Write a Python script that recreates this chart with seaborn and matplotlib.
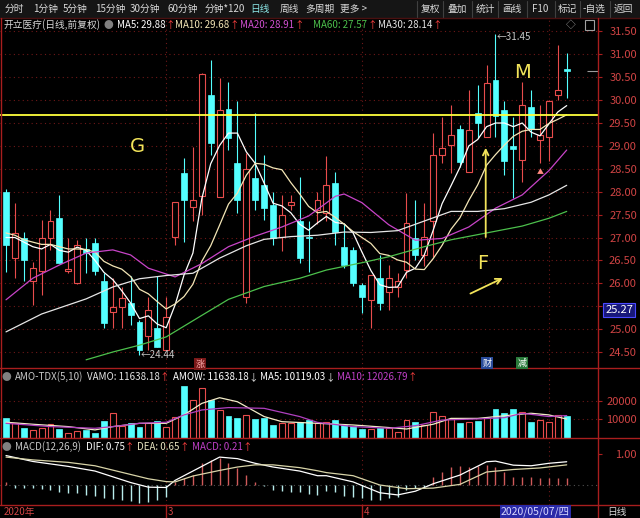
import numpy as np
import seaborn as sns
import matplotlib.pyplot as plt
from matplotlib.lines import Line2D
from matplotlib.patches import Rectangle

W, H = 640, 518

# daily candles (index 0 = first bar on screen, Feb 2020 .. May 2020)
opens = [28.00, 26.55, 27.00, 26.04, 26.26, 26.98, 27.42, 26.27, 26.00, 26.76,
         26.87, 26.04, 25.38, 25.49, 25.56, 25.16, 24.84, 25.02, 24.55, 27.02,
         28.40, 27.67, 27.90, 30.11, 27.89, 29.80, 28.62, 25.71, 28.29, 28.15,
         27.71, 27.02, 27.70, 27.35, 27.02, 27.60, 27.53, 28.18, 26.80, 26.73,
         25.96, 25.64, 26.11, 25.82, 25.93, 26.29, 26.98, 26.62, 27.35, 28.80,
         29.02, 29.38, 28.44, 29.71, 29.20, 30.44, 29.78, 29.00, 28.69, 29.86,
         29.13, 29.20, 30.11, 30.69]
highs = [28.05, 27.75, 27.13, 26.47, 27.38, 27.60, 27.93, 26.98, 26.95, 26.98,
         26.98, 26.22, 26.11, 25.93, 26.15, 25.20, 25.71, 26.15, 25.71, 27.78,
         28.73, 28.98, 30.60, 30.88, 30.48, 30.40, 29.97, 28.84, 29.71, 28.80,
         28.00, 27.93, 27.93, 28.33, 27.35, 28.00, 28.77, 28.44, 27.30, 26.80,
         26.00, 26.18, 26.62, 26.40, 26.22, 27.97, 27.82, 27.75, 29.28, 29.64,
         29.89, 29.45, 30.22, 30.33, 30.77, 31.45, 29.97, 29.64, 30.40, 30.22,
         29.89, 30.00, 31.20, 31.02]
lows = [26.25, 26.11, 26.04, 25.53, 25.75, 26.73, 26.44, 26.22, 25.98, 26.22,
        26.18, 25.02, 25.02, 25.02, 25.09, 24.44, 24.55, 24.60, 24.55, 26.84,
        26.90, 27.35, 27.50, 28.81, 27.89, 28.91, 27.53, 25.56, 27.60, 27.38,
        26.84, 26.70, 27.60, 26.44, 26.25, 27.30, 27.35, 26.84, 26.33, 25.95,
        25.35, 25.02, 25.42, 25.42, 25.71, 26.11, 26.51, 26.37, 26.58, 28.62,
        28.40, 28.55, 28.44, 29.17, 29.20, 29.20, 28.37, 27.86, 28.22, 29.20,
        28.62, 28.66, 30.00, 30.04]
closes = [26.84, 27.09, 26.51, 26.33, 26.98, 27.35, 26.44, 26.32, 26.84, 26.66,
          26.26, 25.13, 25.49, 25.67, 25.31, 24.55, 25.42, 24.62, 25.27, 27.78,
          27.82, 27.82, 30.58, 29.06, 29.78, 29.17, 27.82, 28.50, 27.82, 27.64,
          26.98, 27.49, 27.78, 26.55, 26.98, 27.82, 28.15, 27.13, 26.40, 26.00,
          25.71, 26.18, 25.56, 26.11, 26.04, 27.31, 26.62, 27.02, 28.80, 28.95,
          29.24, 28.65, 29.35, 29.49, 30.37, 29.65, 28.66, 28.93, 29.89, 29.38,
          29.24, 29.97, 30.22, 30.64]

ma5 = [27.00, 27.00, 26.90, 26.80, 26.75, 26.85, 26.72, 26.68, 26.79, 26.72,
       26.50, 26.24, 26.08, 25.84, 25.57, 25.23, 25.29, 25.11, 25.03, 25.53,
       26.18, 26.66, 27.85, 28.61, 29.01, 29.28, 29.28, 28.87, 28.62, 28.19,
       27.75, 27.69, 27.54, 27.29, 27.16, 27.32, 27.46, 27.33, 27.30, 27.10,
       26.68, 26.28, 25.97, 25.91, 25.92, 26.24, 26.33, 26.62, 27.16, 27.74,
       28.13, 28.53, 29.00, 29.14, 29.42, 29.50, 29.50, 29.42, 29.50, 29.30,
       29.22, 29.48, 29.74, 29.88]
ma10 = [27.10, 27.05, 26.95, 26.90, 26.85, 26.85, 26.80, 26.75, 26.75, 26.74,
        26.68, 26.48, 26.38, 26.31, 26.15, 25.87, 25.77, 25.60, 25.44, 25.55,
        25.71, 25.98, 26.48, 26.82, 27.27, 27.73, 27.97, 28.36, 28.62, 28.60,
        28.52, 28.48, 28.20, 27.95, 27.68, 27.54, 27.57, 27.44, 27.29, 27.13,
        27.00, 26.87, 26.65, 26.61, 26.51, 26.46, 26.31, 26.30, 26.54, 26.83,
        27.18, 27.43, 27.81, 28.15, 28.58, 28.81, 29.02, 29.21, 29.32, 29.36,
        29.36, 29.49, 29.58, 29.68]

# slower averages at sample bars
ma20_idx = [0, 3, 6, 9, 12, 14, 16, 19, 22, 25, 28, 31, 34, 37, 38, 40, 43, 46, 49, 52, 55, 58, 61, 63]
ma20 = [25.64, 26.11, 26.40, 26.66, 26.73, 26.62, 26.33, 26.14, 26.43, 26.80, 27.03, 27.23,
        27.47, 27.90, 27.95, 27.76, 27.28, 26.94, 26.98, 27.23, 27.64, 27.93, 28.46, 28.91]
ma30_idx = [0, 4, 9, 12, 15, 18, 21, 24, 27, 29, 32, 35, 38, 41, 44, 47, 50, 53, 56, 59, 61, 63]
ma30 = [24.94, 25.33, 25.66, 25.92, 26.10, 26.17, 26.22, 26.55, 26.82, 26.96, 27.02,
        27.05, 27.12, 27.11, 27.15, 27.36, 27.57, 27.57, 27.63, 27.77, 27.93, 28.14]
ma60_idx = [9, 12, 15, 18, 22, 25, 29, 33, 36, 40, 43, 47, 50, 54, 58, 61, 63]
ma60 = [24.33, 24.50, 24.65, 24.83, 25.30, 25.65, 25.93, 26.11, 26.29, 26.45,
        26.58, 26.80, 26.95, 27.10, 27.25, 27.42, 27.57]

# turnover (AMO)
amount = [10500, 7800, 5100, 4200, 5100, 7300, 4700, 2400, 3600, 4200,
          2700, 9100, 13600, 6500, 7800, 6000, 7800, 9100, 6000, 11500,
          28200, 20500, 27300, 20500, 15100, 11800, 10500, 12400, 10000, 10900,
          6900, 7800, 7800, 8400, 9600, 7800, 8700, 9600, 6900, 6500,
          4700, 4700, 5500, 5100, 2900, 9600, 8400, 6900, 13800, 12000,
          10200, 7800, 8400, 9100, 10900, 15500, 13600, 15500, 14200, 8400,
          9600, 8400, 12400, 11638]
vma5_idx = [0, 3, 7, 10, 12, 15, 18, 20, 22, 24, 26, 28, 29, 31, 35, 39, 43, 45, 48, 50, 53, 57, 59, 61, 63]
vma5 = [8400, 7300, 6000, 4200, 6000, 7800, 7800, 12400, 18700, 21800, 19600, 14200, 11500,
        8700, 7800, 6900, 5500, 4700, 7300, 10500, 10500, 12400, 13300, 12400, 10119]
vma10_idx = [0, 5, 10, 12, 15, 18, 20, 22, 25, 29, 33, 35, 39, 43, 46, 49, 53, 56, 58, 61, 63]
vma10 = [7800, 6000, 5100, 6000, 7800, 8400, 12400, 15100, 16400, 16000, 11500,
         8300, 6000, 5100, 6500, 9600, 10200, 10900, 13300, 11500, 12027]

# MACD(12,26,9)
macd_bar = [0.10, -0.09, -0.11, -0.11, -0.13, -0.16, -0.22, -0.27, -0.27, -0.32,
            -0.34, -0.43, -0.45, -0.48, -0.52, -0.59, -0.54, -0.48, -0.38, 0.11,
            0.22, 0.32, 0.70, 0.81, 0.86, 0.70, 0.54, 0.32, 0.11, -0.03,
            -0.15, -0.19, -0.22, -0.22, -0.30, -0.32, -0.20, -0.22, -0.35, -0.40,
            -0.43, -0.48, -0.48, -0.43, -0.38, -0.16, -0.11, -0.09, 0.27, 0.43,
            0.59, 0.62, 0.59, 0.62, 0.65, 0.59, 0.43, 0.27, 0.27, 0.27,
            0.22, 0.22, 0.22, 0.21]
dif_idx = [0, 3, 7, 10, 14, 16, 18, 19, 21, 24, 26, 28, 30, 33, 35, 36, 39, 42, 44, 46, 48, 51, 54, 55, 57, 59, 61, 63]
dif = [0.95, 0.76, 0.60, 0.45, 0.08, -0.07, -0.08, 0.15, 0.45, 0.90, 0.85, 0.70, 0.58, 0.45,
       0.30, 0.30, 0.10, -0.25, -0.32, -0.20, 0.04, 0.32, 0.75, 0.77, 0.64, 0.62, 0.70, 0.75]
dea_idx = [0, 3, 7, 10, 14, 16, 18, 19, 21, 24, 26, 28, 30, 33, 35, 36, 39, 42, 45, 48, 51, 54, 57, 60, 63]
dea = [0.90, 0.81, 0.73, 0.62, 0.34, 0.20, 0.11, 0.10, 0.29, 0.47, 0.58, 0.65, 0.65, 0.56,
       0.46, 0.40, 0.30, 0.00, -0.12, -0.10, 0.02, 0.42, 0.50, 0.55, 0.65]

price_ticks = [24.5, 25.0, 25.5, 26.0, 26.5, 27.0, 27.5, 28.0, 28.5, 29.0, 29.5, 30.0, 30.5, 31.0, 31.5]
amount_ticks = [10000, 20000]
macd_ticks = [1.0]
month_bars = [18, 40, 61]
key_level = 29.68
cursor_price = "25.27"

UP = "#e84c4c"
DN = "#54ffff"
FRAME = "#a81e1e"
GRID = "#6e1818"
AXTXT = "#d04444"
YEL = "#f2e35a"

sns.set_style("dark", {"axes.facecolor": "black", "figure.facecolor": "black"})
plt.rcParams["font.family"] = ["Noto Sans CJK SC", "DejaVu Sans"]
plt.rcParams["axes.unicode_minus"] = False

fig = plt.figure(figsize=(6.4, 5.18), dpi=100)
fig.patch.set_facecolor("black")


def panel(top, bottom):
    ax = fig.add_axes([0, 1 - bottom / H, 598 / W, (bottom - top) / H])
    ax.set_facecolor("black")
    ax.set_xlim(-6 / 8.9, 592 / 8.9)
    for s in ax.spines.values():
        s.set_visible(False)
    ax.set_xticks([])
    ax.tick_params(axis="y", left=False, labelleft=False, right=True, labelright=True,
                   length=3, width=0.8, color=FRAME, labelcolor=AXTXT, labelsize=8, pad=25)
    for b in month_bars:
        ax.axvline(b, color=GRID, lw=0.8, ls=(0, (1, 3)), zorder=0)
    return ax


def right_labels(ax, ticks, fmt, hide=()):
    ax.set_yticks(ticks)
    ax.set_yticklabels(["" if t in hide else fmt.format(t) for t in ticks])
    for lbl in ax.get_yticklabels():
        lbl.set_horizontalalignment("right")
    ax.set_xlabel("")
    ax.set_ylabel("")


idx = np.arange(len(closes))
o, hi, lo, c = map(np.array, (opens, highs, lows, closes))
up = c >= o

# ---- price panel
ax_k = panel(18, 368)
ax_k.set_ylim(24.151, 31.793)
for t in price_ticks:
    ax_k.axhline(t, color=GRID, lw=0.8, ls=(0, (1, 3)), zorder=0)

ax_k.vlines(idx[up], lo[up], hi[up], color=UP, lw=0.8, zorder=2)
ax_k.vlines(idx[~up], lo[~up], hi[~up], color=DN, lw=0.8, zorder=2)
body_lo = np.minimum(o, c)
body_h = np.maximum(np.abs(c - o), 0.02)
ax_k.bar(idx[up], body_h[up], bottom=body_lo[up], width=0.66,
         facecolor="black", edgecolor=UP, lw=0.8, zorder=3)
ax_k.bar(idx[~up], body_h[~up], bottom=body_lo[~up], width=0.66,
         facecolor=DN, edgecolor=DN, lw=0.5, zorder=3)

sns.lineplot(x=idx, y=ma5, ax=ax_k, color="#ffffff", lw=0.9, zorder=4)
sns.lineplot(x=idx, y=ma10, ax=ax_k, color="#f3e6b6", lw=0.9, zorder=4)
sns.lineplot(x=ma20_idx, y=ma20, ax=ax_k, color="#c844c8", lw=0.9, zorder=4)
sns.lineplot(x=ma30_idx, y=ma30, ax=ax_k, color="#e6e6e6", lw=0.9, zorder=4)
sns.lineplot(x=ma60_idx, y=ma60, ax=ax_k, color="#4cc04c", lw=0.9, zorder=4)
# the 25.50 label sits under the cursor price box in the screenshot
right_labels(ax_k, price_ticks, "{:.2f}", hide=(25.5,))

ax_k.axhline(key_level, color="#ffff3c", lw=1.3, zorder=5)
ax_k.text(14.8, 28.98, "G", color=YEL, fontsize=14, ha="center", va="center", family="DejaVu Sans")
ax_k.text(58.0, 30.61, "M", color=YEL, fontsize=14, ha="center", va="center", family="DejaVu Sans")
ax_k.text(53.6, 26.44, "F", color=YEL, fontsize=14, ha="center", va="center", family="DejaVu Sans")
ax_k.annotate("", xy=(53.9, 29.02), xytext=(53.9, 26.95),
              arrowprops=dict(arrowstyle="->", color=YEL, lw=1.3), zorder=6)
ax_k.annotate("", xy=(56.1, 26.14), xytext=(51.9, 25.75),
              arrowprops=dict(arrowstyle="->", color=YEL, lw=1.3), zorder=6)
ax_k.text(60.0, 28.42, "▲", color="#ff8a80", fontsize=5, ha="center", va="center", zorder=6)
ax_k.text(15.1, 24.44, "←24.44", color="#c8c8c8", fontsize=7, ha="left", va="center", zorder=6)
ax_k.text(55.1, 31.38, "←31.45", color="#c8c8c8", fontsize=7, ha="left", va="center", zorder=6)
ax_k.hlines(c[-1], 65.3, 66.5, color="#9a9a9a", lw=0.8)

# ---- turnover panel
ax_v = panel(368, 438)
ax_v.set_ylim(-219, 38033)
for t in amount_ticks:
    ax_v.axhline(t, color=GRID, lw=0.8, ls=(0, (1, 3)), zorder=0)
amt = np.array(amount)
ax_v.bar(idx[up], amt[up], width=0.66, facecolor="black", edgecolor=UP, lw=0.8, zorder=2)
ax_v.bar(idx[~up], amt[~up], width=0.66, facecolor=DN, edgecolor=DN, lw=0.5, zorder=2)
sns.lineplot(x=vma5_idx, y=vma5, ax=ax_v, color="#f3ecc8", lw=0.9, zorder=4)
sns.lineplot(x=vma10_idx, y=vma10, ax=ax_v, color="#b040c0", lw=0.9, zorder=4)
right_labels(ax_v, amount_ticks, "{:.0f}")

# ---- MACD panel
ax_m = panel(438, 505)
ax_m.set_ylim(-0.645, 1.516)
ax_m.axhline(0, color="#505050", lw=0.8, ls=(0, (1, 3)), zorder=0)
mb = np.array(macd_bar)
ax_m.vlines(idx[mb >= 0], 0, mb[mb >= 0], color="#d05a5a", lw=1.0, zorder=2)
ax_m.vlines(idx[mb < 0], 0, mb[mb < 0], color="#b8ecec", lw=1.0, zorder=2)
sns.lineplot(x=dif_idx, y=dif, ax=ax_m, color="#ffffff", lw=0.9, zorder=4)
sns.lineplot(x=dea_idx, y=dea, ax=ax_m, color="#d8d4a8", lw=0.9, zorder=4)
right_labels(ax_m, macd_ticks, "{:.2f}")

# ---- frame lines and header strips (pixel coordinates)
def hline(y, x0=0, x1=W, col=FRAME, lw=1.0):
    fig.add_artist(Line2D([x0 / W, x1 / W], [1 - y / H, 1 - y / H], color=col, lw=lw))


def vline(x, y0, y1, col=FRAME, lw=1.0):
    fig.add_artist(Line2D([x / W, x / W], [1 - y0 / H, 1 - y1 / H], color=col, lw=lw))


fig.add_artist(Rectangle((0, 1 - 18 / H), 1, 18 / H, transform=fig.transFigure,
                         facecolor="#151515", edgecolor="none"))
hline(18, col="#4a1010")
hline(368)
hline(438)
hline(505)
vline(598, 18, H)
vline(1, 18, 505)
vline(166, 505, H)
vline(362, 505, H)

renderer = fig.canvas.get_renderer()


def seq(x, y, parts, size=7):
    for s, col in parts:
        t = fig.text(x / W, 1 - y / H, s, color=col, fontsize=size, ha="left", va="center")
        x += t.get_window_extent(renderer).width


TXT = "#d8d8d8"
for s, x in [("分时", 5), ("1分钟", 33), ("5分钟", 63), ("15分钟", 95), ("30分钟", 130),
             ("60分钟", 168), ("分钟*120", 205), ("周线", 280), ("多周期", 305), ("更多 >", 340),
             ("复权", 421), ("叠加", 448), ("统计", 476), ("画线", 502), ("F10", 532),
             ("标记", 558), ("-自选", 583), ("返回", 614)]:
    seq(x, 9, [(s, TXT)])
seq(250, 9, [("日线", "#8ce8e8")])
for x in [417, 443, 472, 498, 527, 555, 580, 610]:
    vline(x, 1, 17, col="#404040", lw=0.8)

RED_ARROW = "#ff4040"
seq(4, 25, [("开立医疗(日线,前复权)", TXT)])
seq(104, 25, [("●", "#808080")])
seq(117, 25, [("MA5: 29.88", "#ffffff"), ("↑", RED_ARROW)])
seq(175, 25, [("MA10: 29.68", "#f3e6b6"), ("↑", RED_ARROW)])
seq(240, 25, [("MA20: 28.91", "#d050d0"), ("↑", RED_ARROW)])
seq(313, 25, [("MA60: 27.57", "#4cc04c"), ("↑", RED_ARROW)])
seq(378, 25, [("MA30: 28.14", "#e6e6e6"), ("↑", RED_ARROW)])
seq(566, 25, [("◇", "#a0a0a0")])
fig.add_artist(Rectangle((585 / W, 1 - 30 / H), 9 / W, 10 / H, transform=fig.transFigure,
                         facecolor="none", edgecolor="#a0a0a0", lw=0.8))

seq(2, 377, [("●", "#808080")])
seq(15, 377, [("AMO-TDX(5,10)", "#c8c8c8")])
seq(87, 377, [("VAMO: 11638.18", "#e6e6e6"), ("↑", RED_ARROW)])
seq(173, 377, [("AMOW: 11638.18", "#ffffff"), ("↓", "#e0e0e0")])
seq(260, 377, [("MA5: 10119.03", "#ffffff"), ("↓", "#e0e0e0")])
seq(337, 377, [("MA10: 12026.79", "#c040c8"), ("↑", RED_ARROW)])

seq(2, 447, [("●", "#808080")])
seq(15, 447, [("MACD(12,26,9)", "#c8c8c8")])
seq(86, 447, [("DIF: 0.75", "#ffffff"), ("↑", RED_ARROW)])
seq(137, 447, [("DEA: 0.65", "#e8e4c0"), ("↑", RED_ARROW)])
seq(192, 447, [("MACD: 0.21", "#c040c8"), ("↑", RED_ARROW)])

# event badges under the candles
fig.text(200 / W, 1 - 364 / H, "涨", color="#ffb0b0", fontsize=6.5, ha="center", va="center",
         bbox=dict(facecolor="#7a1818", edgecolor="none", pad=0.8))
fig.text(487 / W, 1 - 363 / H, "财", color="#ffffff", fontsize=6.5, ha="center", va="center",
         bbox=dict(facecolor="#2a4a9a", edgecolor="none", pad=0.8))
fig.text(522 / W, 1 - 363 / H, "减", color="#ffffff", fontsize=6.5, ha="center", va="center",
         bbox=dict(facecolor="#2a7a3a", edgecolor="none", pad=0.8))

# cursor price box on the price scale
fig.text(619 / W, 1 - 310 / H, cursor_price, color="#ffffff", fontsize=8, ha="center", va="center",
         bbox=dict(facecolor="#18187a", edgecolor="#4a4aff", pad=1.5, lw=0.8), zorder=10)

# date strip
seq(4, 512, [("2020年", AXTXT)])
seq(168, 512, [("3", AXTXT)])
seq(364, 512, [("4", AXTXT)])
fig.text(501 / W, 1 - 512 / H, "2020/05/07/四", color="#d8d8ff", fontsize=7.5, ha="left", va="center",
         bbox=dict(facecolor="#2a2aa8", edgecolor="none", pad=1.0))
seq(607, 512, [("日线", TXT)])

fig.savefig("out.png", dpi=100, facecolor="black")
